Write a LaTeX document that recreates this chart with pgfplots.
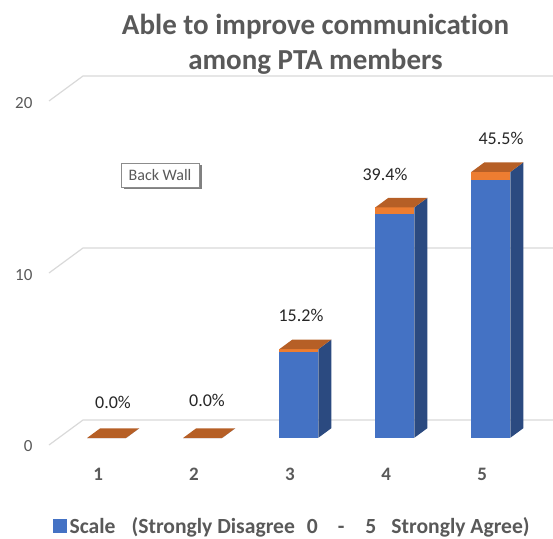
\documentclass[border=0pt]{standalone}
\usepackage{fontspec}
\setmainfont[Ligatures=NoCommon]{Carlito}
\usepackage{pgfplots}
\pgfplotsset{compat=1.18}
\usetikzlibrary{shadows}
\definecolor{barblue}{HTML}{4472C4}
\definecolor{barside}{HTML}{2B4A80}
\definecolor{barorange}{HTML}{ED7D31}
\definecolor{bartop}{HTML}{B65F26}
\definecolor{wallgrid}{HTML}{D9D9D9}
\definecolor{textgray}{HTML}{595959}

% one 3D column: category, count, share on top
\newcommand{\column}[3]{%
  \pgfmathsetmacro{\xa}{#1-0.203}%
  \pgfmathsetmacro{\xb}{#1+0.203}%
  \pgfmathsetmacro{\zt}{#2+#3}%
  \addplot3[fill=barblue,draw=none,forget plot] coordinates {(\xa,0.29,0) (\xb,0.29,0) (\xb,0.29,#2) (\xa,0.29,#2)};
  \addplot3[fill=barside,draw=none,forget plot] coordinates {(\xb,0.29,0) (\xb,0.67,0) (\xb,0.67,\zt) (\xb,0.29,\zt)};
  \addplot3[fill=barorange,draw=none,forget plot] coordinates {(\xa,0.29,#2) (\xb,0.29,#2) (\xb,0.29,\zt) (\xa,0.29,\zt)};
  \addplot3[fill=bartop,draw=none,forget plot] coordinates {(\xa,0.29,\zt) (\xb,0.29,\zt) (\xb,0.67,\zt) (\xa,0.67,\zt)};
}

\begin{document}
\begin{tikzpicture}
\begin{axis}[
  x={(96pt,0pt)},
  y={(34pt,25pt)},
  z={(0pt,17.2pt)},
  xmin=0.5, xmax=5.396,
  ymin=0, ymax=1,
  zmin=0, zmax=20,
  clip=false,
  axis lines*=left,
  axis line style={draw=none},
  major tick length=0pt,
  xtick={1,2,3,4,5},
  xticklabels={1,2,3,4,5},
  ytick=\empty,
  ztick={0,10,20},
  /pgf/number format/assume math mode=true,
  x tick label style={font=\fontsize{19}{19}\selectfont\bfseries,text=textgray,yshift=-20pt,xshift=6pt},
  z tick label style={font=\fontsize{17}{17}\selectfont,text=textgray,xshift=-13pt,yshift=2pt},
  legend style={
    at={(axis cs:0.5,0,-4.71)},anchor=west,draw=none,fill=none,inner sep=0pt,
    xshift=4pt,
    font=\fontsize{21.6}{21.6}\selectfont\bfseries,text=textgray,
  },
  legend cell align=left,
]
\coordinate (o) at (axis cs:0.5,0,0);

% wall gridlines
\addplot3[wallgrid,line width=1.2pt,forget plot] coordinates {(0.5,0,0) (0.5,1,0) (5.396,1,0)};
\addplot3[wallgrid,line width=1.2pt,forget plot] coordinates {(0.5,0,10) (0.5,1,10) (5.396,1,10)};
\addplot3[wallgrid,line width=1.2pt,forget plot] coordinates {(0.5,0,20) (0.5,1,20) (5.396,1,20)};

\column{1}{0}{0}
\column{2}{0}{0}
\column{3}{5}{0.152}
\column{4}{13}{0.394}
\column{5}{15}{0.455}

\addlegendimage{legend image code/.code={\fill[barblue] (0pt,-6.5pt) rectangle (13pt,6.5pt);}}
\addlegendentry{\hspace*{1pt}Scale\hspace*{16pt}(Strongly Disagree\hspace*{12pt}0\hspace*{20pt}-\hspace*{21pt}5\hspace*{15pt}Strongly Agree)}

% data labels
\tikzset{lab/.style={font=\fontsize{18}{18}\selectfont,text=black!85}}
\node[lab] at (axis cs:1.167,0,2.50) {0.0\%};
\node[lab] at (axis cs:2.146,0,2.60) {0.0\%};
\node[lab] at (axis cs:3.125,0,7.56) {15.2\%};
\node[lab] at (axis cs:4.000,0,15.75) {39.4\%};
\node[lab] at (axis cs:5.208,0,17.85) {45.5\%};
\end{axis}

\begin{scope}[x=1pt,y=-1pt,shift={(o)},shift={(-49,-445)}]
\node[font=\fontsize{29}{35}\selectfont\bfseries,text=textgray,align=center] at (315.5,44) {Able to improve communication\\among PTA members};
\node[draw=gray!90,fill=white,line width=0.8pt,text=textgray,font=\fontsize{16}{16}\selectfont,
  minimum width=78pt,minimum height=24pt,inner sep=0pt,
  drop shadow={shadow xshift=2.5pt,shadow yshift=-2.5pt,fill=gray,opacity=1}] at (160,175) {Back Wall};
\end{scope}

\pgfresetboundingbox
\useasboundingbox ([shift={(-49pt,-93pt)}]o) rectangle ([shift={(504pt,445pt)}]o);
\end{tikzpicture}
\end{document}
